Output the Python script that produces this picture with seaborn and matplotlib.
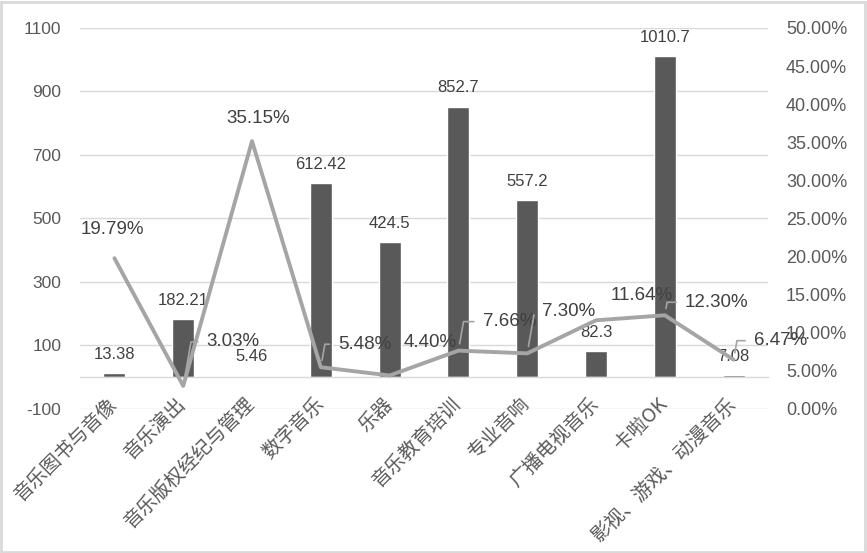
from matplotlib import pyplot as plt
from matplotlib.ticker import FuncFormatter
import numpy as np
import pandas as pd
import seaborn as sns

# chart data
categories = ['音乐图书与音像', '音乐演出', '音乐版权经纪与管理', '数字音乐', '乐器',
              '音乐教育培训', '专业音响', '广播电视音乐', '卡啦OK', '影视、游戏、动漫音乐']
revenue = [13.38, 182.21, 5.46, 612.42, 424.5, 852.7, 557.2, 82.3, 1010.7, 7.08]
growth_pct = [19.79, 3.03, 35.15, 5.48, 4.40, 7.66, 7.30, 11.64, 12.30, 6.47]

# label placement (pixel offsets of the % labels from their points) and leader flags
pct_offsets = [(-2, 29), (50, 44), (6, 23), (44, 23), (41, 33),
               (51, 29), (41, 42), (46, 25), (52, 13), (47, 19)]
pct_leaders = [False, True, False, True, False, True, True, False, True, True]

BAR_COLOR = '#595959'
LINE_COLOR = '#a5a5a5'
GRID_COLOR = '#d9d9d9'
TICK_COLOR = '#595959'
LABEL_COLOR = '#404040'

df = pd.DataFrame({
    'category': categories,
    'revenue': revenue,
    'growth': np.array(growth_pct) / 100,
})

sns.set_style('white')
plt.rcParams['font.family'] = ['Liberation Sans', 'Noto Sans CJK SC', 'DejaVu Sans']
plt.rcParams['axes.unicode_minus'] = False

fig = plt.figure(figsize=(8.67, 5.53), dpi=100)
ax = fig.add_axes([0.0923, 0.2604, 0.7935, 0.689])

sns.barplot(data=df, x='category', y='revenue', ax=ax, color=BAR_COLOR,
            saturation=1, width=0.32, order=categories)
ax.bar_label(ax.containers[0], fmt='%g', padding=8, fontsize=12, color=LABEL_COLOR)

ax2 = ax.twinx()
sns.lineplot(data=df, x='category', y='growth', ax=ax2, color=LINE_COLOR,
             linewidth=2.8, sort=False)

# left axis
ax.set_ylim(-100, 1100)
ax.set_yticks(range(-100, 1101, 200))
ax.yaxis.grid(True, color=GRID_COLOR, linewidth=1)
ax.set_axisbelow(True)
ax.tick_params(axis='y', length=0, pad=13.5, labelsize=12.5, labelcolor=TICK_COLOR)
ax.set_xlim(-0.5, len(categories) - 0.5)
for side in ['left', 'right', 'top']:
    ax.spines[side].set_visible(False)
ax.spines['bottom'].set_position(('data', 0))
ax.spines['bottom'].set_color(GRID_COLOR)
ax.spines['bottom'].set_linewidth(1)
ax.set_xlabel('')
ax.set_ylabel('')
ax.tick_params(axis='x', length=0, pad=17)
for lab in ax.get_xticklabels():
    lab.set_rotation(45)
    lab.set_ha('right')
    lab.set_va('center')
    lab.set_rotation_mode('anchor')
    lab.set_fontsize(14)
    lab.set_color(TICK_COLOR)
    lab.set_family(['Noto Sans CJK SC', 'DejaVu Sans'])

# right axis
ax2.set_ylim(0, 0.5)
ax2.set_yticks(np.arange(0, 0.501, 0.05))
ax2.yaxis.set_major_formatter(FuncFormatter(lambda v, p: f'{v * 100:.2f}%'))
ax2.tick_params(axis='y', length=0, pad=13, labelsize=13, labelcolor=TICK_COLOR)
ax2.set_ylabel('')
for side in ax2.spines:
    ax2.spines[side].set_visible(False)
if ax2.get_legend() is not None:
    ax2.get_legend().remove()

# growth labels
for i, g in enumerate(df['growth']):
    dx, dy = pct_offsets[i]
    arrow = None
    if pct_leaders[i]:
        arrow = dict(arrowstyle='-', color=LINE_COLOR, lw=1.2, relpos=(0, 0.5),
                     shrinkA=4, shrinkB=5,
                     connectionstyle='angle,angleA=0,angleB=80,rad=0')
    ax2.annotate(f'{g * 100:.2f}%', xy=(i, g), xytext=(dx, dy),
                 textcoords='offset pixels', ha='center', va='center',
                 fontsize=13.5, color=LABEL_COLOR, arrowprops=arrow)

# outer frame
fig.add_artist(plt.Rectangle((0.001, 0.001), 0.997, 0.996, transform=fig.transFigure,
                             fill=False, edgecolor=GRID_COLOR, linewidth=2))

plt.savefig('out.png', dpi=100)
